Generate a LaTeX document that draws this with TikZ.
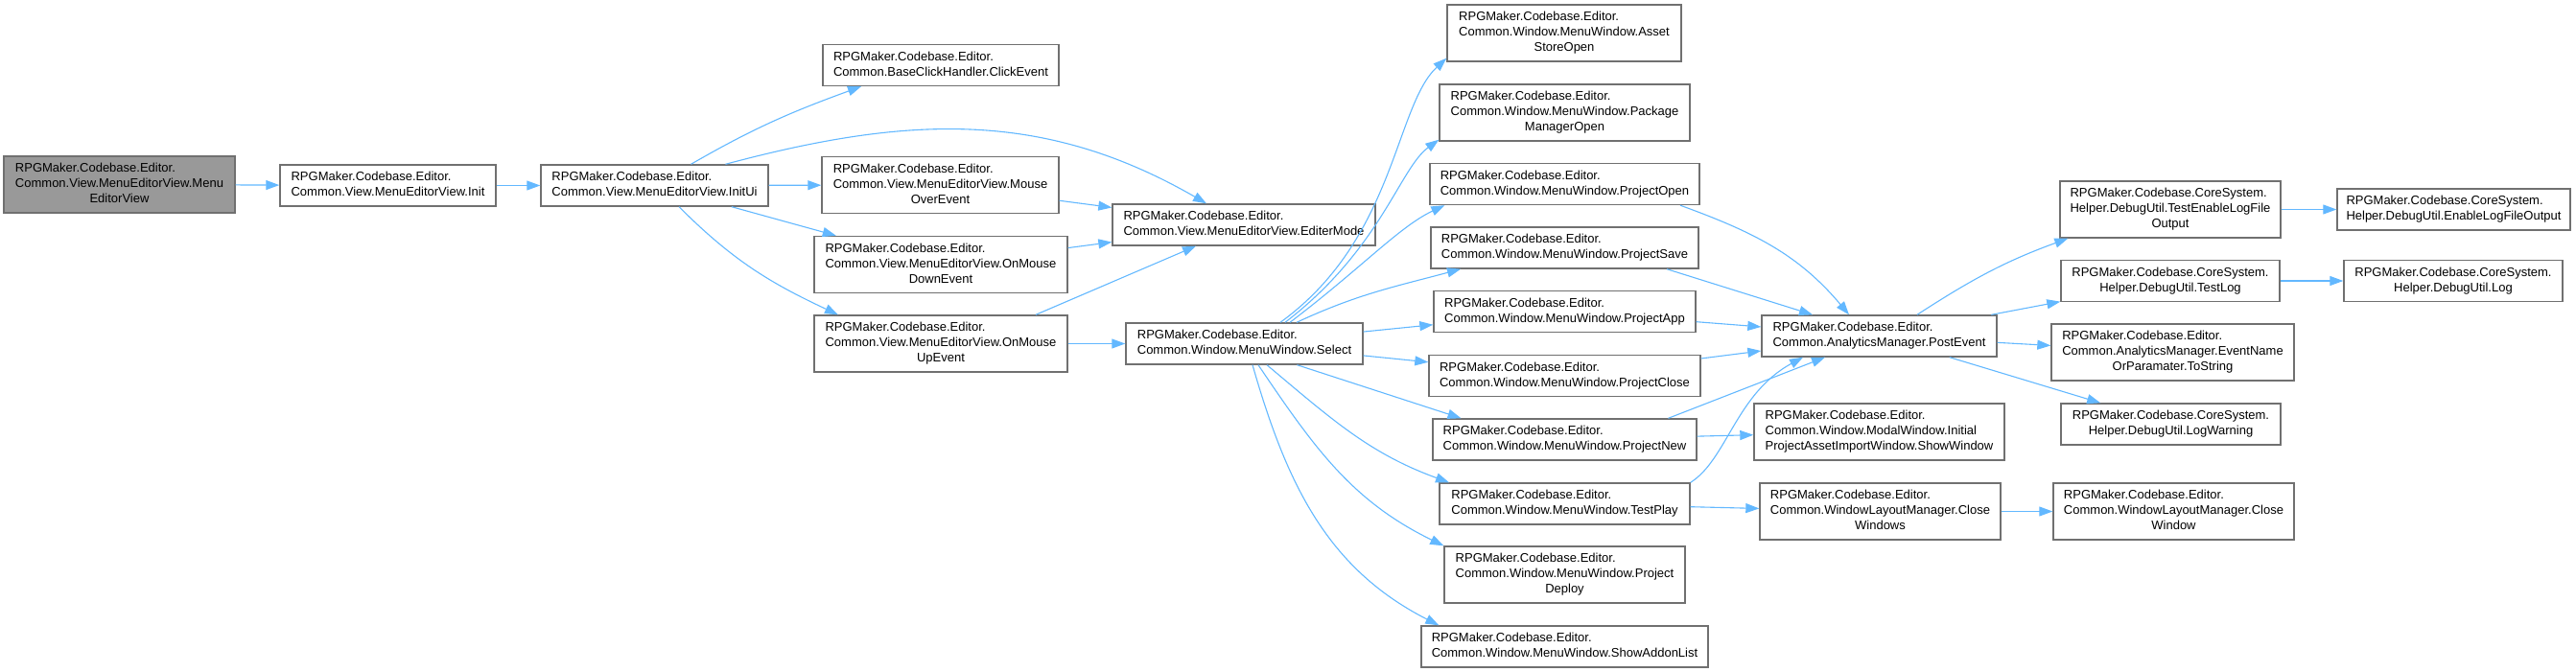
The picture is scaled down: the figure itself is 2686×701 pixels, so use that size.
\documentclass[tikz,border=0pt]{standalone}
\usepackage{fontspec}
\setmainfont{Liberation Sans}
\usetikzlibrary{arrows.meta}
\definecolor{callblue}{HTML}{63B8FF}
\definecolor{boxline}{HTML}{707070}
\definecolor{rootfill}{HTML}{999999}

% graphviz labels: the first lines flush left, the last one centred
\newcommand{\lblii}[2]{\begin{tabular}{@{}l@{}}#1\\\multicolumn{1}{@{}c@{}}{#2}\end{tabular}}
\newcommand{\lbliii}[3]{\begin{tabular}{@{}l@{}}#1\\#2\\\multicolumn{1}{@{}c@{}}{#3}\end{tabular}}

\begin{document}
\begin{tikzpicture}[
  x=1pt, y=1pt,
  func/.style={draw=boxline, line width=1.4pt, fill=white, rectangle,
               inner xsep=4pt, inner ysep=5.5pt,
               font=\fontsize{13}{16}\selectfont},
  % the function the graph is drawn for
  focus/.style={func, fill=rootfill},
  call/.style={draw=callblue, line width=1.1pt,
               -{Triangle[length=14pt, width=10pt]}}
]
\useasboundingbox (0,0) rectangle (2686,-701);

% ══ column 1-2: the constructor and Init ═══════════════════════════════════
\node[focus, minimum width=241pt] (root) at (124.5,-192.5)
  {\lbliii{RPGMaker.Codebase.Editor.}{Common.View.MenuEditorView.Menu}{EditorView}};
\node[func, minimum width=225pt] (init) at (404.5,-193.5)
  {\lblii{RPGMaker.Codebase.Editor.}{Common.View.MenuEditorView.Init}};
\node[func, minimum width=237pt] (initui) at (682.5,-193.5)
  {\lblii{RPGMaker.Codebase.Editor.}{Common.View.MenuEditorView.InitUi}};

% ══ handlers wired up in InitUi ════════════════════════════════════════════
\node[func, minimum width=246pt] (click) at (981,-68)
  {\lblii{RPGMaker.Codebase.Editor.}{Common.BaseClickHandler.ClickEvent}};
\node[func, minimum width=247pt] (mouseover) at (980.5,-193)
  {\lbliii{RPGMaker.Codebase.Editor.}{Common.View.MenuEditorView.Mouse}{OverEvent}};
\node[func, minimum width=264pt] (mousedown) at (981,-276)
  {\lbliii{RPGMaker.Codebase.Editor.}{Common.View.MenuEditorView.OnMouse}{DownEvent}};
\node[func, minimum width=264pt] (mouseup) at (981,-358.5)
  {\lbliii{RPGMaker.Codebase.Editor.}{Common.View.MenuEditorView.OnMouse}{UpEvent}};
\node[func, minimum width=274pt] (editermode) at (1297,-234.5)
  {\lblii{RPGMaker.Codebase.Editor.}{Common.View.MenuEditorView.EditerMode}};
\node[func, minimum width=247pt] (select) at (1297.5,-358.5)
  {\lblii{RPGMaker.Codebase.Editor.}{Common.Window.MenuWindow.Select}};

% ══ MenuWindow entries reached from Select ═════════════════════════════════
\node[func, minimum width=244pt] (assetstore) at (1631,-34.5)
  {\lbliii{RPGMaker.Codebase.Editor.}{Common.Window.MenuWindow.Asset}{StoreOpen}};
\node[func, minimum width=261pt] (package) at (1631.5,-117.5)
  {\lbliii{RPGMaker.Codebase.Editor.}{Common.Window.MenuWindow.Package}{ManagerOpen}};
\node[func, minimum width=281pt] (projopen) at (1631.5,-192)
  {\lblii{RPGMaker.Codebase.Editor.}{Common.Window.MenuWindow.ProjectOpen}};
\node[func, minimum width=279pt] (projsave) at (1631.5,-258.5)
  {\lblii{RPGMaker.Codebase.Editor.}{Common.Window.MenuWindow.ProjectSave}};
\node[func, minimum width=273pt] (projapp) at (1631.5,-325)
  {\lblii{RPGMaker.Codebase.Editor.}{Common.Window.MenuWindow.ProjectApp}};
\node[func, minimum width=283pt] (projclose) at (1631.5,-392)
  {\lblii{RPGMaker.Codebase.Editor.}{Common.Window.MenuWindow.ProjectClose}};
\node[func, minimum width=275pt] (projnew) at (1631.5,-458.5)
  {\lblii{RPGMaker.Codebase.Editor.}{Common.Window.MenuWindow.ProjectNew}};
\node[func, minimum width=261pt] (testplay) at (1631.5,-525.5)
  {\lblii{RPGMaker.Codebase.Editor.}{Common.Window.MenuWindow.TestPlay}};
\node[func, minimum width=251pt] (deploy) at (1631.5,-599.5)
  {\lbliii{RPGMaker.Codebase.Editor.}{Common.Window.MenuWindow.Project}{Deploy}};
\node[func, minimum width=299pt] (addon) at (1631.5,-674.5)
  {\lblii{RPGMaker.Codebase.Editor.}{Common.Window.MenuWindow.ShowAddonList}};

% ══ analytics, modal window and layout manager ═════════════════════════════
\node[func, minimum width=245pt] (postevent) at (1959.5,-350.5)
  {\lblii{RPGMaker.Codebase.Editor.}{Common.AnalyticsManager.PostEvent}};
\node[func, minimum width=261pt] (showwindow) at (1959.5,-450.5)
  {\lbliii{RPGMaker.Codebase.Editor.}{Common.Window.ModalWindow.Initial}{ProjectAssetImportWindow.ShowWindow}};
\node[func, minimum width=251pt] (closewindows) at (1960.5,-533.5)
  {\lbliii{RPGMaker.Codebase.Editor.}{Common.WindowLayoutManager.Close}{Windows}};

% ══ DebugUtil and the last leaves ══════════════════════════════════════════
\node[func, minimum width=230pt] (testenable) at (2263,-218.5)
  {\lbliii{RPGMaker.Codebase.CoreSystem.}{Helper.DebugUtil.TestEnableLogFile}{Output}};
\node[func, minimum width=228pt] (testlog) at (2263,-293)
  {\lblii{RPGMaker.Codebase.CoreSystem.}{Helper.DebugUtil.TestLog}};
\node[func, minimum width=253pt] (eventname) at (2265.5,-367.5)
  {\lbliii{RPGMaker.Codebase.Editor.}{Common.AnalyticsManager.EventName}{OrParamater.ToString}};
\node[func, minimum width=229pt] (logwarning) at (2263.5,-442.5)
  {\lblii{RPGMaker.Codebase.CoreSystem.}{Helper.DebugUtil.LogWarning}};
\node[func, minimum width=251pt] (closewindow) at (2266.5,-533.5)
  {\lbliii{RPGMaker.Codebase.Editor.}{Common.WindowLayoutManager.Close}{Window}};
\node[func, minimum width=243pt] (enablelog) at (2558.5,-218.5)
  {\lblii{RPGMaker.Codebase.CoreSystem.}{Helper.DebugUtil.EnableLogFileOutput}};
\node[func, minimum width=228pt] (log) at (2558,-293)
  {\lblii{RPGMaker.Codebase.CoreSystem.}{Helper.DebugUtil.Log}};

% ══ calls ══════════════════════════════════════════════════════════════════
\draw[call] (root) -- (init);
\draw[call] (init) -- (initui);
\draw[call] ([xshift=38pt]initui.north) to[out=30,in=200] ([xshift=-83pt]click.south);
\draw[call] ([xshift=74pt]initui.north) to[out=15,in=150] ([xshift=-39pt]editermode.north);
\draw[call] (initui) -- (mouseover);
\draw[call] (initui) -- (mousedown);
\draw[call] ([xshift=25.5pt]initui.south) to[out=-45,in=155] ([xshift=-107pt]mouseup.north);
\draw[call] (mouseover) -- (editermode);
\draw[call] (mousedown) -- (editermode);
\draw[call] ([xshift=99pt]mouseup.north) -- ([xshift=-50pt]editermode.south);
\draw[call] (mouseup) -- (select);

% Select fans out over the whole MenuWindow column
\draw[call] ([xshift=37.5pt]select.north) .. controls +(120,87) and +(-54,-50) .. ([yshift=4pt]assetstore.south west);
\draw[call] ([xshift=42.5pt]select.north) .. controls +(100,77) and +(-41,-30) .. ([yshift=2pt]package.south west);
\draw[call] ([xshift=47.5pt]select.north) .. controls +(75,57) and +(-47,-22) .. ([xshift=16pt]projopen.south west);
\draw[call] ([xshift=54.5pt]select.north) to[out=25,in=195] ([xshift=-108.5pt]projsave.south);
\draw[call] (select) -- (projapp);
\draw[call] (select) -- (projclose);
\draw[call] ([xshift=55pt]select.south) -- ([xshift=-108pt]projnew.north);
\draw[call] ([xshift=23.5pt]select.south) to[out=-40,in=160] ([xshift=-120.5pt]testplay.north);
\draw[call] ([xshift=14.5pt]select.south) to[out=-56,in=154] (deploy.north west);
\draw[call] ([xshift=8.5pt]select.south) to[out=-74,in=153] ([xshift=19pt]addon.north west);

% six entries end in PostEvent
\draw[call] ([xshift=120.5pt]projopen.south) to[out=-20,in=130] ([xshift=-31.5pt]postevent.north);
\draw[call] ([xshift=106.5pt]projsave.south) -- ([xshift=-69.5pt]postevent.north);
\draw[call] (projapp) -- (postevent);
\draw[call] (projclose) -- (postevent);
\draw[call] ([xshift=108pt]projnew.north) -- ([xshift=-56.5pt]postevent.south);
\draw[call] (testplay.north east) .. controls +(38,24) and +(-70,-38) .. ([xshift=-79.5pt]postevent.south);
\draw[call] (projnew) -- (showwindow);
\draw[call] (testplay) -- (closewindows);

\draw[call] ([xshift=39.5pt]postevent.north) to[out=33,in=200] ([xshift=9pt]testenable.south west);
\draw[call] (postevent) -- (testlog);
\draw[call] (postevent) -- (eventname);
\draw[call] (postevent) -- (logwarning);
\draw[call] (testenable) -- (enablelog);
\draw[call] (testlog) -- (log);
\draw[call] (closewindows) -- (closewindow);

\end{tikzpicture}
\end{document}
